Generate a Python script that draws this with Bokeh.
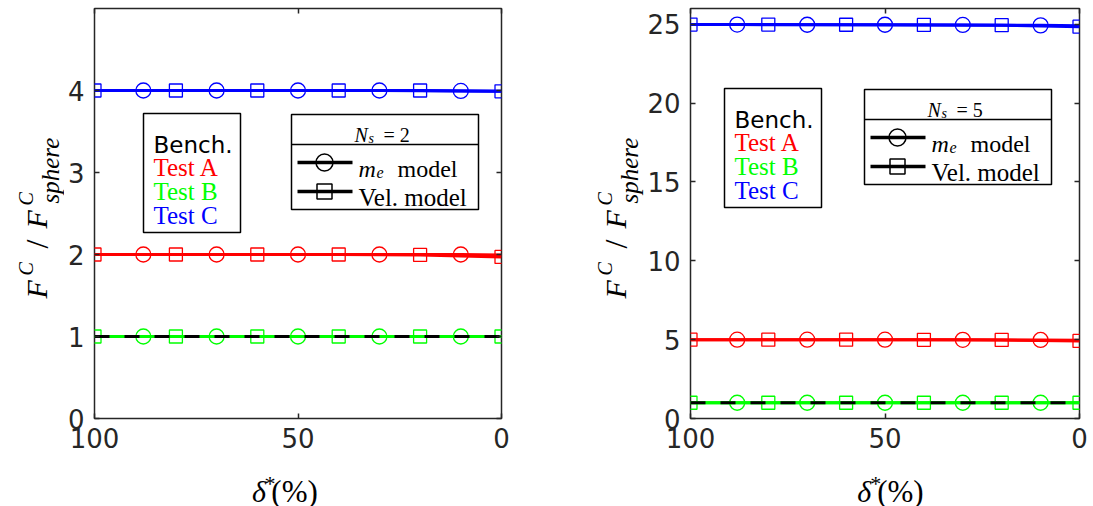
from math import pi

from bokeh.embed import file_html
from bokeh.layouts import column, row
from bokeh.models import ColumnDataSource, FixedTicker, LinearAxis, Range1d
from bokeh.plotting import figure
from bokeh.resources import INLINE

# ---- data -------------------------------------------------------------
# contact depth delta* in percent (axis runs from 100 down to 0)
delta_me = [100, 88, 70, 50, 30, 10, 0]      # m_e model samples
delta_vel = [100, 80, 60, 40, 20, 0]         # velocity model samples
me_marker_slice = slice(1, 6)                # circles shown at 88 ... 10

delta_bench = [100, 0]
bench = [1.0, 1.0]

# N_s = 2
ns2_a_me = [2.00, 2.00, 2.00, 2.00, 2.00, 2.00, 1.995]
ns2_a_vel = [2.00, 2.00, 2.00, 2.00, 1.995, 1.97]
ns2_b_me = [1.00, 1.00, 1.00, 1.00, 1.00, 1.00, 1.00]
ns2_b_vel = [1.00, 1.00, 1.00, 1.00, 1.00, 1.00]
ns2_c_me = [4.00, 4.00, 4.00, 4.00, 4.00, 3.995, 3.99]
ns2_c_vel = [4.00, 4.00, 4.00, 4.00, 4.00, 3.99]

# N_s = 5
ns5_a_me = [5.00, 5.00, 5.00, 5.00, 4.99, 4.98, 4.96]
ns5_a_vel = [5.00, 5.00, 5.00, 4.99, 4.98, 4.92]
ns5_b_me = [1.00, 1.00, 1.00, 1.00, 1.00, 1.00, 1.00]
ns5_b_vel = [1.00, 1.00, 1.00, 1.00, 1.00, 1.00]
ns5_c_me = [24.98, 24.98, 24.97, 24.97, 24.96, 24.93, 24.90]
ns5_c_vel = [24.98, 24.98, 24.97, 24.96, 24.94, 24.85]

x_ticks = [0, 50, 100]
ns2_y_ticks = [0, 1, 2, 3, 4]
ns5_y_ticks = [0, 5, 10, 15, 20, 25]
ns2_ymax = 5
ns5_ymax = 26

test_names = ["Test A", "Test B", "Test C"]
test_colors = ["#FF0000", "#00FF00", "#0000FF"]

AX = "#262626"
SERIF = "Liberation Serif"
SANS = "DejaVu Sans"
PAGE_H = 506
MAIN_H = 458          # plot figure height; the x-axis title strip sits below


class TextBatch:
    """Collects text pieces and draws them with one text glyph."""

    def __init__(self):
        self.cols = {k: [] for k in
                     ("x", "y", "text", "font", "size", "style", "color", "angle")}

    def add(self, x, y, text, size, font=SERIF, style="normal", color="black", angle=0.0):
        for k, v in zip(self.cols, (x, y, text, font, f"{size}px", style, color, angle)):
            self.cols[k].append(v)

    def draw(self, p):
        p.text(x="x", y="y", text="text", text_font="font", text_font_size="size",
               text_font_style="style", text_color="color", angle="angle",
               text_align="left", text_baseline="alphabetic",
               source=ColumnDataSource(self.cols))


def text_strip(x0, y0, w, h):
    """Blank figure whose data coordinates are page pixels (y downwards)."""
    p = figure(width=w, height=h, x_range=Range1d(x0, x0 + w), y_range=Range1d(y0 + h, y0),
               x_axis_type=None, y_axis_type=None, min_border=0,
               output_backend="svg", toolbar_location=None,
               background_fill_color="white", border_fill_color="white")
    p.outline_line_color = None
    p.grid.visible = False
    return p


def y_title(x0, w, dx):
    p = text_strip(x0, 0, w, PAGE_H)
    t = TextBatch()
    bx = 36 + dx
    a = pi / 2
    t.add(bx, 298, "F", 30, style="italic", angle=a)
    t.add(bx - 11, 275, "C", 20, style="italic", angle=a)
    t.add(bx, 248, "/", 32, angle=a)
    t.add(bx, 228, "F", 30, style="italic", angle=a)
    t.add(bx - 11, 205, "C", 20, style="italic", angle=a)
    t.add(bx + 14, 203, "sphere", 25, style="italic", angle=a)
    t.draw(p)
    return p


def x_title(x0, w, xc):
    p = text_strip(x0, MAIN_H, w, PAGE_H - MAIN_H)
    t = TextBatch()
    t.add(xc - 46, 491, "δ", 30, style="italic")
    t.add(xc - 31, 483, "*", 22)
    t.add(xc - 23, 491, "(%)", 31)
    t.draw(p)
    return p


def make_panel(page_left, frame_left, frame_width, border_right, ymax, yticks,
               series, ns_value, dx_bench, dx_ns, dy_box):
    frame_top, frame_height = 8, 410
    p = figure(frame_width=frame_width, frame_height=frame_height,
               min_border_left=frame_left - page_left, min_border_right=border_right,
               min_border_top=frame_top, min_border_bottom=MAIN_H - frame_top - frame_height,
               x_range=Range1d(100, 0), y_range=Range1d(0, ymax),
               output_backend="svg", toolbar_location=None,
               background_fill_color="white", border_fill_color="white")
    p.grid.visible = False
    p.outline_line_color = AX
    p.outline_line_width = 1.5
    p.outline_line_alpha = 1.0

    def style_axis(ax, ticks, show_labels=True):
        ax.ticker = FixedTicker(ticks=ticks)
        ax.axis_line_color = None
        ax.major_tick_in = 5
        ax.major_tick_out = 0
        ax.minor_tick_in = 0
        ax.minor_tick_out = 0
        ax.major_tick_line_color = AX
        ax.major_tick_line_width = 1.5
        ax.major_label_text_color = AX
        ax.major_label_text_font = SANS
        if show_labels:
            ax.major_label_text_font_size = "26px"
        else:
            # mirrored ticks only
            ax.major_label_overrides = {t: "" for t in ticks}
            ax.major_label_text_font_size = "1px"
            ax.major_label_standoff = 0

    style_axis(p.xaxis[0], x_ticks)
    p.xaxis[0].major_label_standoff = 9
    style_axis(p.yaxis[0], yticks)
    p.yaxis[0].major_label_standoff = 10
    top_ax = LinearAxis()
    style_axis(top_ax, x_ticks, show_labels=False)
    p.add_layout(top_ax, "above")
    right_ax = LinearAxis()
    style_axis(right_ax, yticks, show_labels=False)
    p.add_layout(right_ax, "right")

    # page pixel -> data coordinate helpers for the in-frame keys
    def cx(X):
        return 100 - (X - frame_left) / frame_width * 100

    def cy(Y):
        return ymax * (frame_top + frame_height - Y) / frame_height

    # ---- curves ----
    for color, (me, vel) in zip(test_colors, series):
        p.line(delta_me, me, line_color=color, line_width=3)
        p.line(delta_vel, vel, line_color=color, line_width=3)
        p.scatter(delta_me[me_marker_slice], me[me_marker_slice], marker="circle",
                  size=15, fill_color=None, line_color=color, line_width=1.3)
        p.scatter(delta_vel, vel, marker="square", size=13, fill_color=None,
                  line_color=color, line_width=1.3)
    p.line(delta_bench, bench, line_color="black", line_width=3, line_dash="15 15")

    t = TextBatch()

    def label(X, Y, text, size, **kw):
        t.add(cx(X), cy(Y), text, size, **kw)

    # ---- colour key box ----
    bl, br, bt, bb = 142 + dx_bench, 239 + dx_bench, 113 + dy_box, 232 + dy_box
    p.quad(left=[cx(bl)], right=[cx(br)], top=[cy(bt)], bottom=[cy(bb)],
           fill_color="white", line_color="black", line_width=1.5)
    label(bl + 10, bt + 31, "Bench.", 23, font=SANS)
    for i, (name, color) in enumerate(zip(test_names, test_colors)):
        label(bl + 10, bt + 54 + 24 * i, name, 25, color=color)

    # ---- model key box ----
    nl, nr, nt, nb = 290 + dx_ns, 477 + dx_ns, 114 + dy_box, 209 + dy_box
    p.quad(left=[cx(nl)], right=[cx(nr)], top=[cy(nt)], bottom=[cy(nb)],
           fill_color="white", line_color="black", line_width=1.5)
    p.line([cx(nl), cx(nr)], [cy(nt + 30)] * 2, line_color="black", line_width=1.5)
    label(nl + 63, nt + 20, "N", 20, style="italic")
    label(nl + 77, nt + 24, "s", 14, style="italic")
    label(nl + 92, nt + 20, "= " + str(ns_value), 20)
    for k, (marker, msize) in enumerate([("circle", 17), ("square", 15)]):
        ry = nt + 48 + 29 * k
        p.line([cx(nl + 6), cx(nl + 61)], [cy(ry)] * 2, line_color="black", line_width=3.5)
        p.scatter([cx(nl + 33)], [cy(ry)], marker=marker, size=msize,
                  fill_color=None, line_color="black", line_width=1.5)
    label(nl + 67, nt + 54, "m", 24, style="italic")
    label(nl + 85, nt + 58, "e", 16, style="italic")
    label(nl + 106, nt + 54, "model", 24)
    label(nl + 67, nt + 83, "Vel. model", 25)
    t.draw(p)
    return p


left_main = make_panel(64, 93, 407, 45, ns2_ymax, ns2_y_ticks,
                       [(ns2_a_me, ns2_a_vel), (ns2_b_me, ns2_b_vel), (ns2_c_me, ns2_c_vel)],
                       2, 0, 0, 0)
right_main = make_panel(643, 688, 389, 16, ns5_ymax, ns5_y_ticks,
                        [(ns5_a_me, ns5_a_vel), (ns5_b_me, ns5_b_vel), (ns5_c_me, ns5_c_vel)],
                        5, 580, 572, -25)

left_group = row(y_title(0, 64, 0),
                 column(left_main, x_title(64, 481, 93 + 407 / 2)))
right_group = row(y_title(545, 98, 578),
                  column(right_main, x_title(643, 450, 688 + 389 / 2)))

layout = row(left_group, right_group)
open("out.html", "w").write(file_html(layout, INLINE))
